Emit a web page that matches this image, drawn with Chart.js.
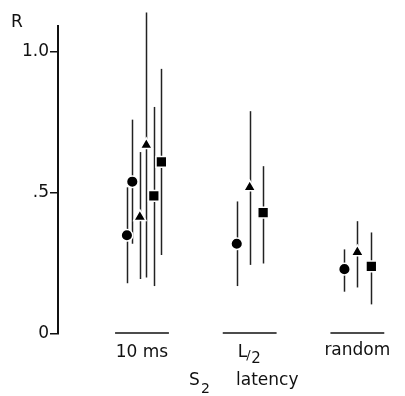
<!DOCTYPE html>
<html>
<head>
<meta charset="utf-8">
<script src="https://cdn.jsdelivr.net/npm/chart.js@4/dist/chart.umd.min.js"></script>
<style>
  html, body { margin: 0; padding: 0; background: #fff; }
  #wrap { width: 405px; height: 396px; }
</style>
</head>
<body>
<div id="wrap"><canvas id="myChart" width="405" height="396"></canvas></div>
<script>
// categories on the x axis
var groups = ['10 ms', 'L/2', 'random'];

// circles
var circleGroup = [0, 0, 1, 2];
var circleShift = [-0.14, -0.09, -0.12, -0.12];
var circleR = [0.35, 0.54, 0.32, 0.23];
var circleLo = [0.18, 0.32, 0.17, 0.15];
var circleHi = [0.52, 0.76, 0.47, 0.30];

// triangles
var triGroup = [0, 0, 1, 2];
var triShift = [-0.02, 0.04, 0, 0];
var triR = [0.415, 0.67, 0.52, 0.29];
var triLo = [0.195, 0.20, 0.245, 0.165];
var triHi = [0.645, 1.14, 0.79, 0.40];

// squares
var sqGroup = [0, 0, 1, 2];
var sqShift = [0.11, 0.18, 0.125, 0.13];
var sqR = [0.49, 0.61, 0.43, 0.24];
var sqLo = [0.17, 0.28, 0.25, 0.105];
var sqHi = [0.805, 0.94, 0.595, 0.36];

var yTicks = [0, 0.5, 1.0];
var yTickLabels = ['0', '.5', '1.0'];

var FONT = '"DejaVu Sans", sans-serif';

function buildPoints(grp, shift, r, lo, hi) {
    return r.map(function (v, i) {
        return { x: grp[i] + shift[i], y: v, lo: lo[i], hi: hi[i] };
    });
}

// error bars, category underlines and texts
var extrasPlugin = {
    id: 'extras',
    beforeDatasetsDraw: function (chart) {
        var ctx = chart.ctx, xs = chart.scales.x, ys = chart.scales.y;
        ctx.save();
        ctx.strokeStyle = '#222';
        ctx.lineWidth = 1.5;
        chart.data.datasets.forEach(function (ds) {
            ds.data.forEach(function (p) {
                var px = Math.round(xs.getPixelForValue(p.x)) + 0.5;
                ctx.beginPath();
                ctx.moveTo(px, ys.getPixelForValue(p.hi));
                ctx.lineTo(px, ys.getPixelForValue(p.lo));
                ctx.stroke();
            });
        });
        ctx.restore();
    },
    afterDraw: function (chart) {
        var ctx = chart.ctx, xs = chart.scales.x, ys = chart.scales.y;
        var y0 = ys.getPixelForValue(0);
        ctx.save();
        ctx.strokeStyle = '#111';
        ctx.fillStyle = '#111';
        ctx.lineWidth = 1.5;
        groups.forEach(function (g, i) {
            var a = xs.getPixelForValue(i - 0.25), b = xs.getPixelForValue(i + 0.25);
            ctx.beginPath();
            ctx.moveTo(a, y0 - 1);
            ctx.lineTo(b, y0 - 1);
            ctx.stroke();
        });
        ctx.textBaseline = 'alphabetic';
        ctx.font = '17px ' + FONT;
        ctx.textAlign = 'center';
        ctx.fillText(groups[0], xs.getPixelForValue(0), 357);
        ctx.fillText(groups[2], xs.getPixelForValue(2), 355);

        // L/2 with small subscripted 2
        var cx = xs.getPixelForValue(1) - 12;
        ctx.textAlign = 'left';
        ctx.font = '17px ' + FONT;
        ctx.fillText('L', cx, 357);
        var w = ctx.measureText('L').width;
        ctx.font = '13px ' + FONT;
        ctx.fillText('/', cx + w - 1, 359);
        ctx.font = '15px ' + FONT;
        ctx.fillText('2', cx + w + 4, 363);

        // axis title: S2 latency
        ctx.font = '17px ' + FONT;
        ctx.fillText('S', 189, 385);
        ctx.font = '14px ' + FONT;
        ctx.fillText('2', 201, 393);
        ctx.font = '17px ' + FONT;
        ctx.fillText('latency', 236, 385);

        // R label
        ctx.font = '17px ' + FONT;
        ctx.fillText('R', 11, 27);
        ctx.restore();
    }
};

var ctx = document.getElementById('myChart').getContext('2d');
var myChart = new Chart(ctx, {
    type: 'scatter',
    data: {
        datasets: [
            {
                label: 'circle',
                data: buildPoints(circleGroup, circleShift, circleR, circleLo, circleHi),
                pointStyle: 'circle',
                pointRadius: 5.8,
                backgroundColor: '#000',
                borderColor: '#fff',
                borderWidth: 1.5
            },
            {
                label: 'triangle',
                data: buildPoints(triGroup, triShift, triR, triLo, triHi),
                pointStyle: 'triangle',
                pointRadius: 7,
                backgroundColor: '#000',
                borderColor: '#fff',
                borderWidth: 1.5
            },
            {
                label: 'square',
                data: buildPoints(sqGroup, sqShift, sqR, sqLo, sqHi),
                pointStyle: 'rect',
                pointRadius: 7.6,
                backgroundColor: '#000',
                borderColor: '#fff',
                borderWidth: 1.5
            }
        ]
    },
    options: {
        responsive: false,
        animation: false,
        events: [],
        layout: { padding: { left: 0, top: 26, right: 5, bottom: 62 } },
        plugins: { legend: { display: false }, tooltip: { enabled: false } },
        scales: {
            x: {
                type: 'linear',
                display: false,
                min: -0.78,
                max: 2.358
            },
            y: {
                min: 0,
                max: 1.092,
                afterFit: function (scale) { scale.width = 58; },
                afterBuildTicks: function (scale) {
                    scale.ticks = yTicks.map(function (v) { return { value: v }; });
                },
                ticks: {
                    color: '#111',
                    padding: 1,
                    font: { family: 'DejaVu Sans', size: 17 },
                    callback: function (v) {
                        var i = yTicks.indexOf(v);
                        return i >= 0 ? yTickLabels[i] : '';
                    }
                },
                grid: {
                    drawOnChartArea: false,
                    drawTicks: true,
                    tickLength: 8,
                    color: '#111',
                    lineWidth: 1.5
                },
                border: { display: true, color: '#111', width: 2 }
            }
        }
    },
    plugins: [extrasPlugin]
});
</script>
</body>
</html>
